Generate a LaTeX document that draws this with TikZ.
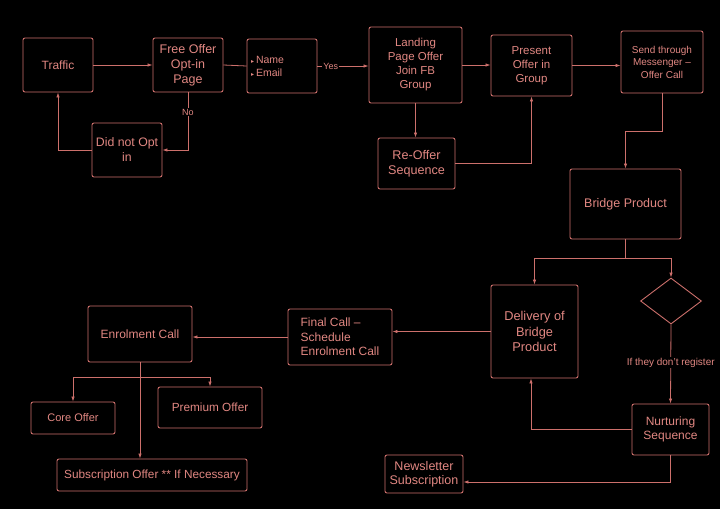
\documentclass[tikz,border=0pt]{standalone}
\usepackage{fontspec}
\setmainfont{Liberation Sans}
\newfontfamily\dejavu{DejaVu Sans}
\usetikzlibrary{shapes.geometric,arrows.meta}
\definecolor{ln}{RGB}{205,112,108}
\definecolor{tx}{RGB}{225,135,130}
\begin{document}
\begin{tikzpicture}[x=1pt,y=-1pt,
  box/.style={draw=ln,line width=0.9pt,rounded corners=2pt,text=tx,align=center,inner sep=1pt,font=\fontsize{12}{15}\selectfont},
  conn/.style={draw=ln,line width=0.8pt},
  arr/.style={conn,-{Latex[length=5pt,width=3.5pt]}},
  lab/.style={fill=black,text=tx,inner sep=1pt,font=\fontsize{9}{11}\selectfont}]
\fill[black] (0,0) rectangle (720,509);
\useasboundingbox (0,0) rectangle (720,509);
\newcommand{\bul}{{\dejavu\fontsize{6}{6}\selectfont ▸}\hspace{2pt}}
% nodes
\node[box,minimum width=70,minimum height=54] (traffic) at (58,65) {Traffic};
\node[box,minimum width=70,minimum height=54,font=\fontsize{12.5}{15}\selectfont] (free) at (188,65) {Free Offer\\Opt-in\\Page};
\node[box,minimum width=70,minimum height=54,text width=62pt,align=left,font=\fontsize{10.5}{13}\selectfont] (name) at (282,66) {\bul Name\\\bul Email};
\node[box,minimum width=70,minimum height=54,font=\fontsize{12.3}{15}\selectfont] (notopt) at (127,150) {Did not Opt\\in};
\node[box,minimum width=93,minimum height=76,font=\fontsize{11.5}{14}\selectfont] (landing) at (415.5,65) {Landing\\Page Offer\\Join FB\\Group};
\node[box,minimum width=81,minimum height=61,font=\fontsize{11.5}{14}\selectfont] (present) at (531.5,65.5) {Present\\Offer in\\Group};
\node[box,minimum width=82,minimum height=62,font=\fontsize{10}{12.5}\selectfont] (send) at (662,62) {Send through\\Messenger –\\Offer Call};
\node[box,minimum width=77,minimum height=51,font=\fontsize{12.6}{15}\selectfont] (reoffer) at (416.5,163.5) {Re-Offer\\Sequence};
\node[box,minimum width=111,minimum height=70,font=\fontsize{12.5}{15}\selectfont] (bridge) at (625.5,204) {Bridge Product};
\node[box,minimum width=87,minimum height=93,font=\fontsize{12.8}{15.5}\selectfont] (delivery) at (534.5,331.5) {Delivery of\\Bridge\\Product};
\node[draw=ln,line width=0.9pt,diamond,minimum width=61,minimum height=46,inner sep=0pt] (dia) at (671,301) {};
\node[box,minimum width=77,minimum height=51,font=\fontsize{12}{14.5}\selectfont] (nurt) at (670.5,429.5) {Nurturing\\Sequence};
\node[box,minimum width=104,minimum height=56,align=left,font=\fontsize{12}{14.5}\selectfont] (final) at (340,337) {Final Call –\\Schedule\\Enrolment Call};
\node[box,minimum width=104,minimum height=56,font=\fontsize{12}{14}\selectfont] (enrol) at (140,334) {Enrolment Call};
\node[box,minimum width=84,minimum height=32,font=\fontsize{11}{14}\selectfont] (core) at (73,418) {Core Offer};
\node[box,minimum width=104,minimum height=41,font=\fontsize{11.8}{14}\selectfont] (premium) at (210,407.5) {Premium Offer};
\node[box,minimum width=190,minimum height=32,font=\fontsize{11.8}{14}\selectfont] (subs) at (152,475) {Subscription Offer ** If Necessary};
\node[box,minimum width=78,minimum height=38,font=\fontsize{12.5}{14}\selectfont] (news) at (424,474) {Newsletter\\Subscription};
% connectors
\draw[arr] (traffic.east) -- (free.west);
\draw[conn] (free.east) -- (name.west);
\draw[arr] (name.east) -- node[lab,pos=0.26] {Yes} (name.east -| landing.west);
\draw[arr] (free.south) |- node[lab,pos=0.17] {No} (notopt.east);
\draw[arr] (notopt.west) -| (traffic.south);
\draw[arr] (landing.east) -- (landing.east -| present.west);
\draw[arr] (present.east) -- (present.east -| send.west);
\draw[arr] (landing.south) -- (landing.south |- reoffer.north);
\draw[arr] (reoffer.east) -| (present.south);
\draw[arr] (send.south) -- ++(0,38) -| (bridge.north);
\coordinate (bj) at ([yshift=-19pt]bridge.south);
\draw[conn] (bridge.south) -- (bj);
\draw[arr] (bj) -| (delivery.north);
\draw[arr] (bj) -| (dia.north);
\draw[arr] (dia.south) -- node[lab,pos=0.48,font=\fontsize{10}{12}\selectfont] {If they don't register} (nurt.north);
\draw[arr] (nurt.west) -| ([xshift=-3.5pt]delivery.south);
\draw[arr] (nurt.south) |- ([yshift=-8pt]news.east);
\draw[arr] (delivery.west) -- (delivery.west -| final.east);
\draw[arr] (final.west) -- (final.west -| enrol.east);
\draw[arr] (enrol.south) -- (enrol.south |- subs.north);
\coordinate (ej) at ([yshift=-15pt]enrol.south);
\draw[arr] (ej) -| (core.north);
\draw[arr] (ej) -| (premium.north);
\end{tikzpicture}
\end{document}
